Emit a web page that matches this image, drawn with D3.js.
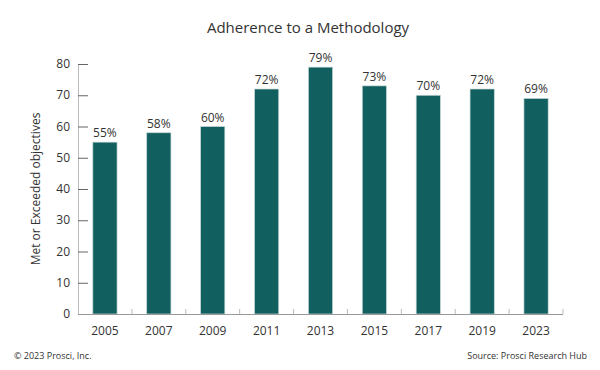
<!DOCTYPE html>
<meta charset="utf-8">
<style>
body { margin: 0; background: #fff; }
text { font-family: 'Open Sans', sans-serif; fill: #333; }
</style>
<body>
<div id="chart"></div>
<script src="https://d3js.org/d3.v7.min.js"></script>
<script>
// data
var years = ["2005", "2007", "2009", "2011", "2013", "2015", "2017", "2019", "2023"];
var values = [55, 58, 60, 72, 79, 73, 70, 72, 69];
var yTicks = [0, 10, 20, 30, 40, 50, 60, 70, 80];

var W = 600, H = 370;
var margin = {top: 64, right: 37, bottom: 56, left: 78},
    width = W - margin.left - margin.right,
    height = H - margin.top - margin.bottom;

var svg = d3.select("#chart").append("svg")
    .attr("width", W)
    .attr("height", H);

var g = svg.append("g")
    .attr("transform", "translate(" + margin.left + "," + margin.top + ")");

var x = d3.scaleBand().domain(years).range([0, width]).paddingInner(0.55).paddingOuter(0.275);
var y = d3.scaleLinear().domain([0, 80]).range([height, 0]);

// title
svg.append("text")
    .attr("x", 308)
    .attr("y", 33)
    .attr("text-anchor", "middle")
    .style("font-size", "15px")
    .text("Adherence to a Methodology");

// bars
g.selectAll(".bar")
    .data(values)
    .enter().append("rect")
    .attr("class", "bar")
    .attr("x", function(d, i) { return x(years[i]); })
    .attr("y", function(d) { return y(d); })
    .attr("width", x.bandwidth())
    .attr("height", function(d) { return height - y(d); })
    .style("fill", "#125f60")
    .style("stroke", "#c9dada")
    .style("stroke-width", 0.7);

// value labels
g.selectAll(".vlab")
    .data(values)
    .enter().append("text")
    .attr("x", function(d, i) { return x(years[i]) + x.bandwidth() / 2; })
    .attr("y", function(d) { return y(d) - 5; })
    .attr("text-anchor", "middle")
    .style("font-size", "12px")
    .text(function(d) { return d + "%"; });

// y axis
var yAxis = g.append("g")
    .call(d3.axisRight(y).tickValues(yTicks).tickSize(10).tickFormat(""));
yAxis.selectAll("line").style("stroke", "#666");
yAxis.select(".domain").style("stroke", "#bbb").attr("d", "M0.5," + height + "V0");

g.selectAll(".ylab")
    .data(yTicks)
    .enter().append("text")
    .attr("x", -8)
    .attr("y", function(d) { return y(d); })
    .attr("dy", "0.35em")
    .attr("text-anchor", "end")
    .style("font-size", "12px")
    .text(function(d) { return d; });

// x axis
var step = x.step();
var xAxis = g.append("g")
    .attr("transform", "translate(0," + height + ")");
xAxis.append("line")
    .attr("x1", 0).attr("x2", width)
    .attr("y1", 0.5).attr("y2", 0.5)
    .style("stroke", "#999");
xAxis.selectAll(".xt")
    .data(years.slice(1).concat(["end"]))
    .enter().append("line")
    .attr("x1", function(d, i) { return x(years[i]) + x.bandwidth() / 2 + step / 2; })
    .attr("x2", function(d, i) { return x(years[i]) + x.bandwidth() / 2 + step / 2; })
    .attr("y1", 0).attr("y2", -5)
    .style("stroke", "#bbb");
xAxis.selectAll(".xlab")
    .data(years)
    .enter().append("text")
    .attr("x", function(d) { return x(d) + x.bandwidth() / 2; })
    .attr("y", 21)
    .attr("text-anchor", "middle")
    .style("font-size", "12px")
    .text(function(d) { return d; });

// y axis title
svg.append("text")
    .attr("transform", "translate(40," + (margin.top + height / 2) + ") rotate(-90)")
    .attr("text-anchor", "middle")
    .style("font-size", "12px")
    .text("Met or Exceeded objectives");

// footer
svg.append("text")
    .attr("x", 14)
    .attr("y", 359)
    .style("font-size", "9px")
    .text("\u00a9 2023 Prosci, Inc.");
svg.append("text")
    .attr("x", 587)
    .attr("y", 359)
    .attr("text-anchor", "end")
    .style("font-size", "9px")
    .text("Source: Prosci Research Hub");
</script>
</body>
